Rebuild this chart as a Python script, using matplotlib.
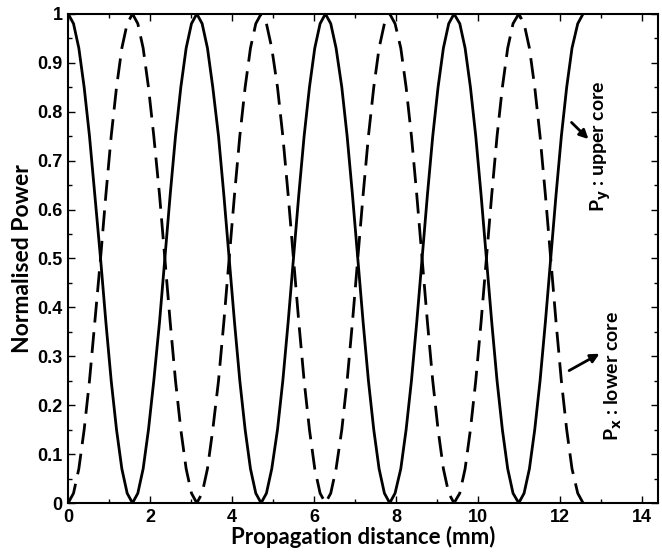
import matplotlib.pyplot as plt
from matplotlib.ticker import MultipleLocator

# propagation distance (mm)
distance = [
    0.00, 0.13, 0.26, 0.39, 0.52, 0.65, 0.79, 0.92, 1.05, 1.18, 1.31, 1.44,
    1.57, 1.70, 1.83, 1.96, 2.09, 2.23, 2.36, 2.49, 2.62, 2.75, 2.88, 3.01,
    3.14, 3.27, 3.40, 3.53, 3.67, 3.80, 3.93, 4.06, 4.19, 4.32, 4.45, 4.58,
    4.71, 4.84, 4.97, 5.11, 5.24, 5.37, 5.50, 5.63, 5.76, 5.89, 6.02, 6.15,
    6.28, 6.41, 6.54, 6.68, 6.81, 6.94, 7.07, 7.20, 7.33, 7.46, 7.59, 7.72,
    7.85, 7.98, 8.12, 8.25, 8.38, 8.51, 8.64, 8.77, 8.90, 9.03, 9.16, 9.29,
    9.42, 9.56, 9.69, 9.82, 9.95, 10.08, 10.21, 10.34, 10.47, 10.60, 10.73, 10.86,
    11.00, 11.13, 11.26, 11.39, 11.52, 11.65, 11.78, 11.91, 12.04, 12.17, 12.30, 12.44,
    12.57,
]

# upper core power (solid)
p_upper = [
    1.00, 0.98, 0.93, 0.85, 0.75, 0.63, 0.50, 0.37, 0.25, 0.15, 0.07, 0.02,
    0.00, 0.02, 0.07, 0.15, 0.25, 0.37, 0.50, 0.63, 0.75, 0.85, 0.93, 0.98,
    1.00, 0.98, 0.93, 0.85, 0.75, 0.63, 0.50, 0.37, 0.25, 0.15, 0.07, 0.02,
    0.00, 0.02, 0.07, 0.15, 0.25, 0.37, 0.50, 0.63, 0.75, 0.85, 0.93, 0.98,
    1.00, 0.98, 0.93, 0.85, 0.75, 0.63, 0.50, 0.37, 0.25, 0.15, 0.07, 0.02,
    0.00, 0.02, 0.07, 0.15, 0.25, 0.37, 0.50, 0.63, 0.75, 0.85, 0.93, 0.98,
    1.00, 0.98, 0.93, 0.85, 0.75, 0.63, 0.50, 0.37, 0.25, 0.15, 0.07, 0.02,
    0.00, 0.02, 0.07, 0.15, 0.25, 0.37, 0.50, 0.63, 0.75, 0.85, 0.93, 0.98,
    1.00,
]

# lower core power (dashed)
p_lower = [
    0.00, 0.02, 0.07, 0.15, 0.25, 0.37, 0.50, 0.63, 0.75, 0.85, 0.93, 0.98,
    1.00, 0.98, 0.93, 0.85, 0.75, 0.63, 0.50, 0.37, 0.25, 0.15, 0.07, 0.02,
    0.00, 0.02, 0.07, 0.15, 0.25, 0.37, 0.50, 0.63, 0.75, 0.85, 0.93, 0.98,
    1.00, 0.98, 0.93, 0.85, 0.75, 0.63, 0.50, 0.37, 0.25, 0.15, 0.07, 0.02,
    0.00, 0.02, 0.07, 0.15, 0.25, 0.37, 0.50, 0.63, 0.75, 0.85, 0.93, 0.98,
    1.00, 0.98, 0.93, 0.85, 0.75, 0.63, 0.50, 0.37, 0.25, 0.15, 0.07, 0.02,
    0.00, 0.02, 0.07, 0.15, 0.25, 0.37, 0.50, 0.63, 0.75, 0.85, 0.93, 0.98,
    1.00, 0.98, 0.93, 0.85, 0.75, 0.63, 0.50, 0.37, 0.25, 0.15, 0.07, 0.02,
    0.00,
]

fig = plt.figure(figsize=(6.62, 5.54), dpi=100)
ax = fig.add_axes([0.103, 0.092, 0.891, 0.883])

ax.plot(distance, p_upper, color="black", lw=2.0)
ax.plot(distance, p_lower, color="black", lw=2.0, dashes=(7.5, 3.5))

ax.xaxis.set_minor_locator(MultipleLocator(1))
ax.yaxis.set_minor_locator(MultipleLocator(0.05))
ax.tick_params(which="both", direction="in", top=True, right=True)
ax.tick_params(which="major", length=5, width=1, labelsize=13, pad=4)
ax.tick_params(which="minor", length=3, width=1)
ax.set_xticks(range(0, 15, 2))
ax.set_xticklabels([str(v) for v in range(0, 15, 2)], fontweight="bold",
                   family="Liberation Sans")
yt = [i / 10 for i in range(11)]
ax.set_yticks(yt)
ax.set_yticklabels([f"{v:g}" for v in yt], fontweight="bold",
                   family="Liberation Sans")
ax.set_xlim(0, 14.4)
ax.set_ylim(0, 1)
for s in ax.spines.values():
    s.set_linewidth(1.5)

ax.set_xlabel("Propagation distance (mm)", fontsize=16, fontweight="bold",
              family="Lato", labelpad=0)
ax.set_ylabel("Normalised Power", fontsize=16.5, fontweight="bold",
              family="Lato", labelpad=3)

ax.text(13.0, 0.73, r"P$_\mathbf{y}$ : upper core", rotation=90, fontsize=14,
        fontweight="bold", family="Lato", ha="center", va="center")
ax.text(13.3, 0.26, r"P$_\mathbf{x}$ : lower core", rotation=90, fontsize=14,
        fontweight="bold", family="Lato", ha="center", va="center")
ax.annotate("", xy=(12.75, 0.74), xytext=(12.24, 0.782),
            arrowprops=dict(arrowstyle="-|>", color="black", lw=2.0,
                            mutation_scale=13))
ax.annotate("", xy=(13.03, 0.308), xytext=(12.17, 0.268),
            arrowprops=dict(arrowstyle="-|>", color="black", lw=2.0,
                            mutation_scale=13))

fig.savefig("out.png", dpi=100)
